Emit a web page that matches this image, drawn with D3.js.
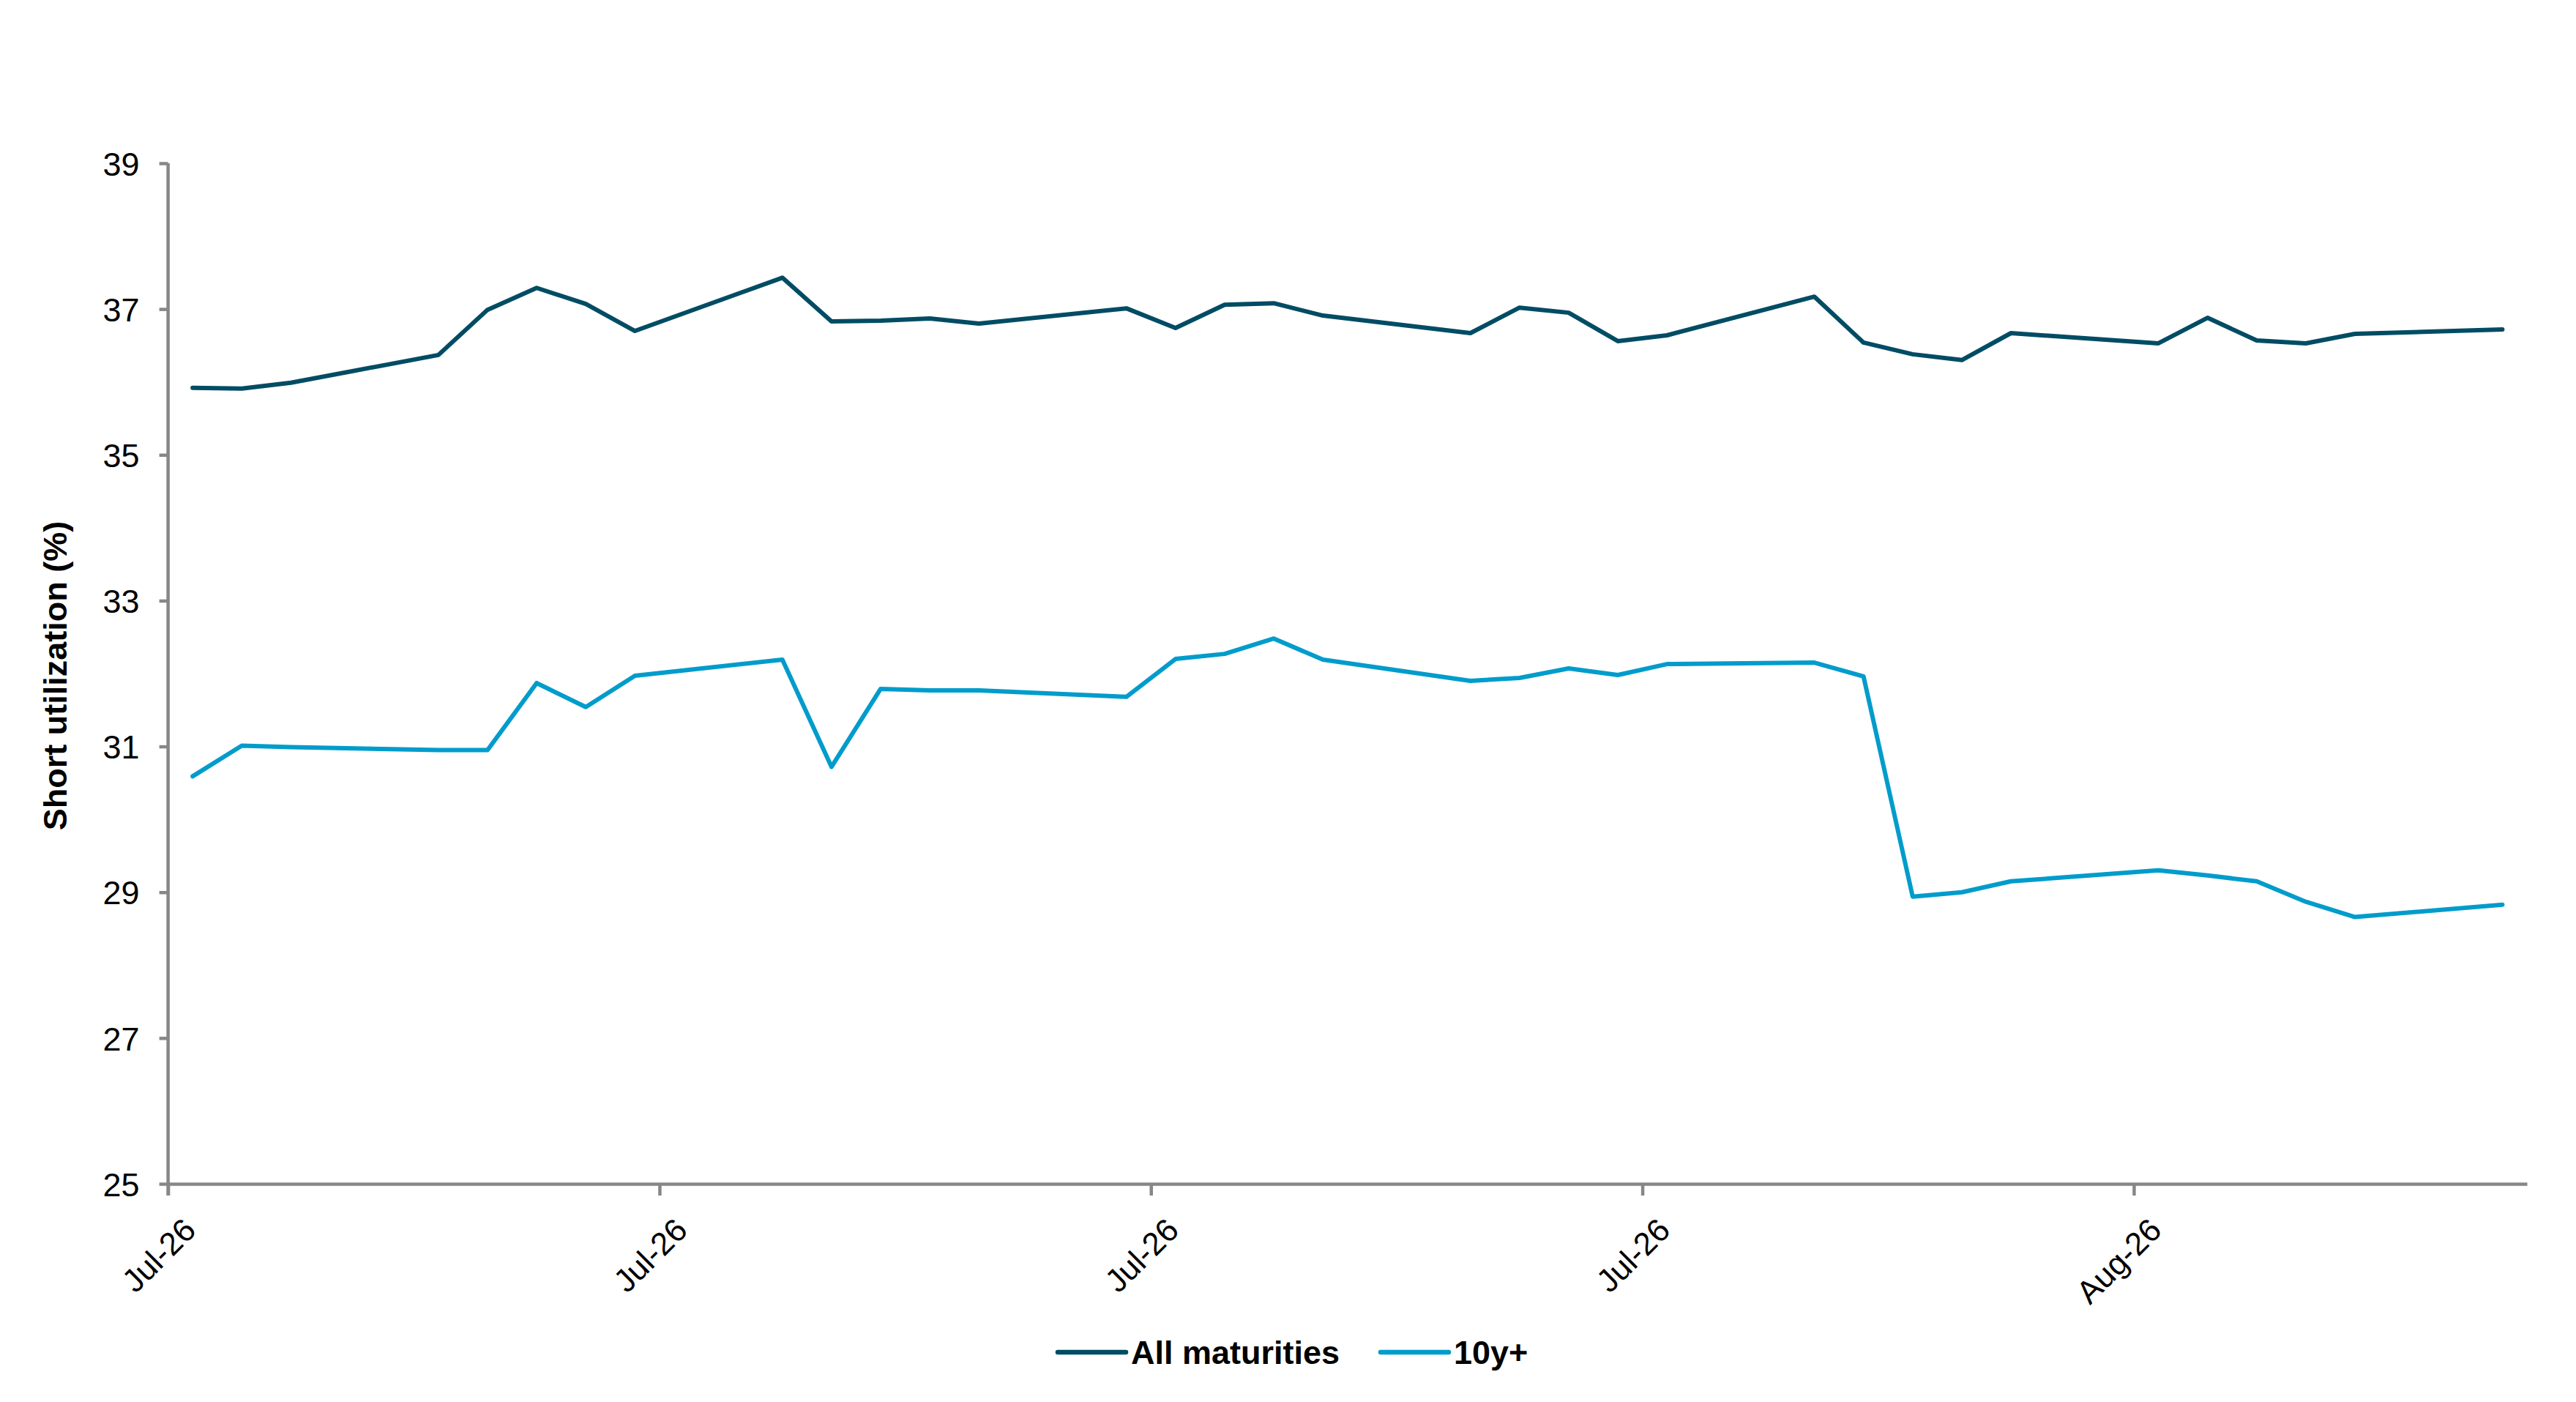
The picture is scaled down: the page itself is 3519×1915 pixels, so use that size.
<!DOCTYPE html>
<html>
<head>
<meta charset="utf-8">
<script src="https://cdn.jsdelivr.net/npm/d3@7"></script>
<style>
  body { margin: 0; background: #fff; }
  svg { display: block; font-family: "Liberation Sans", Arial, sans-serif; }
</style>
</head>
<body>
<div id="chart"></div>
<script>
// trading days (Jul 1 - Aug 17, 2026)
const dates = [
  "2026-07-01", "2026-07-02", "2026-07-03", "2026-07-06", "2026-07-07", "2026-07-08", "2026-07-09", "2026-07-10",
  "2026-07-13", "2026-07-14", "2026-07-15", "2026-07-16", "2026-07-17",
  "2026-07-20", "2026-07-21", "2026-07-22", "2026-07-23", "2026-07-24",
  "2026-07-27", "2026-07-28", "2026-07-29", "2026-07-30", "2026-07-31",
  "2026-08-03", "2026-08-04", "2026-08-05", "2026-08-06", "2026-08-07",
  "2026-08-10", "2026-08-11", "2026-08-12", "2026-08-13", "2026-08-14",
  "2026-08-17"
];
const allMaturities = [
  35.92, 35.91, 35.99, 36.37, 36.99, 37.29, 37.07, 36.70,
  37.43, 36.83, 36.84, 36.87, 36.80,
  37.01, 36.74, 37.06, 37.08, 36.91,
  36.67, 37.02, 36.95, 36.56, 36.64,
  37.17, 36.54, 36.38, 36.30, 36.67,
  36.53, 36.88, 36.57, 36.53, 36.66,
  36.72
];
const tenYearPlus = [
  30.59, 31.01, 30.99, 30.95, 30.95, 31.87, 31.54, 31.97,
  32.19, 30.72, 31.79, 31.77, 31.77,
  31.68, 32.20, 32.27, 32.48, 32.19,
  31.90, 31.94, 32.07, 31.98, 32.13,
  32.15, 31.96, 28.94, 29.00, 29.15,
  29.30, 29.23, 29.15, 28.87, 28.66,
  28.83
];
const seriesNames = ["All maturities", "10y+"];
const yTicks = [25, 27, 29, 31, 33, 35, 37, 39];
const xTickDates = ["2026-07-01", "2026-07-11", "2026-07-21", "2026-07-31", "2026-08-10"];
const xDomain = ["2026-07-01", "2026-08-18"];

const DARK = "#004c64";
const LIGHT = "#009ccb";
const AXIS = "#878787";

const width = 3519, height = 1915;
const plotLeft = 229.6, plotRight = 3452, plotTop = 223, plotBottom = 1617;

const parse = d3.utcParse("%Y-%m-%d");
const day = 24 * 3600 * 1000;

const x = d3.scaleUtc().domain(xDomain.map(parse)).range([plotLeft, plotRight]);
const y = d3.scaleLinear().domain([25, 39]).range([plotBottom, plotTop]);

const svg = d3.select("#chart").append("svg")
  .attr("width", width).attr("height", height);

// y axis
const yAxis = svg.append("g")
  .attr("transform", `translate(${plotLeft},0)`)
  .call(d3.axisLeft(y).tickValues(yTicks).tickFormat(d3.format("d"))
    .tickSizeInner(12).tickSizeOuter(0).tickPadding(27));
yAxis.select(".domain").attr("stroke", AXIS).attr("stroke-width", 4.5)
  .attr("d", `M0,${plotTop}V${plotBottom + 16}`);
yAxis.selectAll(".tick line").attr("stroke", AXIS).attr("stroke-width", 4.5);
yAxis.selectAll(".tick text").attr("font-size", 45).attr("fill", "#000")
  .attr("dy", "0.36em");

// x axis
const xAxis = svg.append("g")
  .attr("transform", `translate(0,${plotBottom})`)
  .call(d3.axisBottom(x).tickValues(xTickDates.map(parse))
    .tickFormat(d3.utcFormat("%b-%y")).tickSizeInner(16).tickSizeOuter(0));
xAxis.select(".domain").attr("stroke", AXIS).attr("stroke-width", 4.5);
xAxis.selectAll(".tick line").attr("stroke", AXIS).attr("stroke-width", 4.5);
xAxis.selectAll(".tick text")
  .attr("font-size", 44).attr("fill", "#000")
  .attr("text-anchor", "end")
  .attr("y", 0).attr("dy", 0)
  .attr("transform", "translate(40,66) rotate(-45)");

// y axis title
svg.append("text")
  .attr("transform", `translate(91,923) rotate(-90)`)
  .attr("text-anchor", "middle")
  .attr("font-size", 45).attr("font-weight", "bold")
  .text("Short utilization (%)");

// lines (points at mid-day, like a date axis with points between ticks)
const line = d3.line()
  .x(d => x(new Date(d[0].getTime() + day / 2)))
  .y(d => y(d[1]));

const series = [allMaturities, tenYearPlus];
const colors = [DARK, LIGHT];
series.forEach((vals, i) => {
  svg.append("path")
    .datum(dates.map((d, j) => [parse(d), vals[j]]))
    .attr("fill", "none")
    .attr("stroke", colors[i])
    .attr("stroke-width", 6)
    .attr("stroke-linejoin", "round")
    .attr("stroke-linecap", "round")
    .attr("d", line);
});

// legend
const legendX = [1445, 1886];
const legend = svg.append("g");
seriesNames.forEach((name, i) => {
  legend.append("line")
    .attr("x1", legendX[i]).attr("x2", legendX[i] + 93)
    .attr("y1", 1847).attr("y2", 1847)
    .attr("stroke", colors[i]).attr("stroke-width", 6.5)
    .attr("stroke-linecap", "round");
  legend.append("text")
    .attr("x", legendX[i] + 100).attr("y", 1863)
    .attr("font-size", 45).attr("font-weight", "bold")
    .text(name);
});
</script>
</body>
</html>
